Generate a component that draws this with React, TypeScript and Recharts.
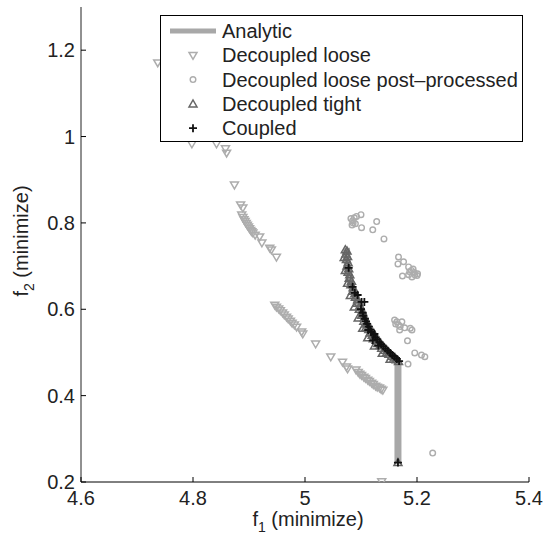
import React from 'react';
import { ScatterChart, Scatter, XAxis, YAxis, Legend } from 'recharts';

// values, [f1, f2]
const analytic: [number, number][] = [
  [5.074, 0.742], [5.076, 0.698], [5.083, 0.652], [5.092, 0.622], [5.101, 0.599],
  [5.110, 0.568], [5.121, 0.545], [5.139, 0.513], [5.157, 0.490], [5.166, 0.478],
  [5.166, 0.244],
];

const decoupledLoose: [number, number][] = [
  [4.737, 1.171],
  [4.798, 0.983], [4.842, 0.983], [4.858, 0.972], [4.860, 0.962],
  [4.874, 0.888],
  [4.885, 0.842], [4.889, 0.835],
  [4.887, 0.819], [4.889, 0.813], [4.891, 0.808], [4.893, 0.804], [4.895, 0.799],
  [4.897, 0.795], [4.899, 0.791], [4.901, 0.787], [4.903, 0.783], [4.905, 0.780],
  [4.907, 0.777], [4.911, 0.772],
  [4.919, 0.768], [4.923, 0.754], [4.937, 0.742], [4.940, 0.738], [4.949, 0.721],
  [4.946, 0.610], [4.949, 0.605], [4.953, 0.601], [4.956, 0.597], [4.960, 0.592],
  [4.963, 0.587], [4.967, 0.582], [4.970, 0.578], [4.974, 0.573], [4.977, 0.568],
  [4.981, 0.564], [4.985, 0.559],
  [4.994, 0.548], [4.996, 0.543], [5.019, 0.520], [5.046, 0.490],
  [5.067, 0.478], [5.074, 0.467], [5.076, 0.462], [5.091, 0.460],
  [5.095, 0.454], [5.098, 0.450], [5.101, 0.447], [5.105, 0.443], [5.108, 0.440],
  [5.112, 0.436], [5.115, 0.433], [5.119, 0.429], [5.122, 0.426], [5.126, 0.422],
  [5.129, 0.420], [5.133, 0.418], [5.136, 0.415], [5.139, 0.413],
  [5.137, 0.201],
];

const looseProcessed: [number, number][] = [
  [5.082, 0.810], [5.085, 0.805], [5.086, 0.800], [5.088, 0.812], [5.090, 0.798],
  [5.092, 0.815], [5.084, 0.795], [5.100, 0.819], [5.101, 0.789], [5.128, 0.803],
  [5.121, 0.784], [5.141, 0.763],
  [5.167, 0.721], [5.166, 0.705], [5.176, 0.710], [5.185, 0.698], [5.187, 0.687],
  [5.196, 0.680], [5.174, 0.677], [5.191, 0.675], [5.201, 0.682], [5.190, 0.690],
  [5.195, 0.685], [5.185, 0.680], [5.200, 0.678], [5.193, 0.693],
  [5.160, 0.575], [5.164, 0.571], [5.167, 0.564], [5.173, 0.571], [5.169, 0.552],
  [5.178, 0.557], [5.191, 0.552], [5.188, 0.556], [5.183, 0.527], [5.196, 0.499],
  [5.208, 0.494], [5.214, 0.490], [5.184, 0.473], [5.162, 0.566], [5.170, 0.560],
  [5.228, 0.267],
];

const decoupledTight: [number, number][] = [
  [5.072, 0.738], [5.075, 0.735], [5.073, 0.728], [5.076, 0.722], [5.074, 0.715],
  [5.077, 0.708], [5.075, 0.700], [5.078, 0.694], [5.077, 0.686], [5.080, 0.680],
  [5.079, 0.672], [5.083, 0.665], [5.082, 0.657], [5.086, 0.650], [5.085, 0.642],
  [5.089, 0.636], [5.090, 0.628], [5.094, 0.622], [5.093, 0.614], [5.098, 0.608],
  [5.097, 0.600], [5.102, 0.595], [5.101, 0.586], [5.106, 0.580], [5.105, 0.572],
  [5.110, 0.566], [5.109, 0.558], [5.114, 0.553], [5.116, 0.545], [5.120, 0.540],
  [5.122, 0.532], [5.127, 0.528], [5.130, 0.521], [5.134, 0.516], [5.137, 0.510],
  [5.142, 0.505], [5.146, 0.500], [5.150, 0.496], [5.155, 0.491], [5.159, 0.487],
  [5.163, 0.483], [5.167, 0.479],
  [5.070, 0.720], [5.072, 0.690], [5.076, 0.660], [5.081, 0.632], [5.088, 0.605],
  [5.095, 0.580], [5.103, 0.556], [5.112, 0.534], [5.124, 0.515], [5.138, 0.498],
  [5.152, 0.484],
  [5.166, 0.245],
];

const coupled: [number, number][] = [
  [5.078, 0.696], [5.085, 0.652], [5.089, 0.638], [5.094, 0.633], [5.101, 0.617],
  [5.106, 0.617],
  [5.100, 0.600], [5.103, 0.592], [5.104, 0.585], [5.107, 0.578], [5.109, 0.572],
  [5.111, 0.566], [5.114, 0.560], [5.117, 0.553], [5.119, 0.547], [5.123, 0.541],
  [5.126, 0.535], [5.129, 0.530], [5.133, 0.524], [5.136, 0.519], [5.140, 0.514],
  [5.144, 0.509], [5.148, 0.504], [5.152, 0.499], [5.156, 0.494], [5.160, 0.490],
  [5.164, 0.485], [5.168, 0.480], [5.113, 0.552], [5.121, 0.528], [5.131, 0.516],
  [5.118, 0.547], [5.124, 0.543],
  [5.166, 0.245],
];

const xTicks = [4.6, 4.8, 5, 5.2, 5.4];
const yTicks = [0.2, 0.4, 0.6, 0.8, 1, 1.2];

const legendLabels = [
  'Analytic',
  'Decoupled loose',
  'Decoupled loose post\u2013processed',
  'Decoupled tight',
  'Coupled',
];

const FONT = '"Liberation Sans", Arial, Helvetica, sans-serif';
const LIGHT = '#adadad';
const DARK = '#666';
const INK = '#111';

const toPts = (arr: [number, number][]) => arr.map(([x, y]) => ({ x, y }));

const TriDown = ({ cx, cy }: any) => (
  <path d={`M${cx - 4},${cy - 2.8}L${cx + 4},${cy - 2.8}L${cx},${cy + 4}Z`} fill="none" stroke={LIGHT} strokeWidth={1.5} />
);
const TriUp = ({ cx, cy }: any) => (
  <path d={`M${cx - 4},${cy + 3}L${cx + 4},${cy + 3}L${cx},${cy - 4}Z`} fill="none" stroke={DARK} strokeWidth={1.5} />
);
const Ring = ({ cx, cy }: any) => (
  <circle cx={cx} cy={cy} r={2.8} fill="none" stroke={LIGHT} strokeWidth={1.4} />
);
const Plus = ({ cx, cy }: any) => (
  <path d={`M${cx - 4},${cy}H${cx + 4}M${cx},${cy - 4}V${cy + 4}`} stroke={INK} strokeWidth={1.8} />
);
const NoDot = () => <g />;

const XTick = ({ x, y, payload }: any) => (
  <g>
    <line x1={x} x2={x} y1={y} y2={y - 5} stroke="#000" />
    <text x={x} y={y + 23} textAnchor="middle" fontSize={20} fontFamily={FONT} fill="#222">
      {payload.value}
    </text>
  </g>
);

const YTick = ({ x, y, payload }: any) => (
  <g>
    <line x1={x} x2={x + 5} y1={y} y2={y} stroke="#000" />
    <text x={x - 6} y={y + 7} textAnchor="end" fontSize={20} fontFamily={FONT} fill="#222">
      {payload.value}
    </text>
  </g>
);

const XTitle = () => (
  <text x={308} y={526} textAnchor="middle" fontSize={20} fontFamily={FONT} fill="#222">
    f<tspan dy={6} fontSize={14}>1</tspan>
    <tspan dy={-6}> (minimize)</tspan>
  </text>
);

const YTitle = () => (
  <text
    x={0}
    y={0}
    transform="translate(28 241) rotate(-90)"
    textAnchor="middle"
    fontSize={20}
    fontFamily={FONT}
    fill="#222"
  >
    f<tspan dy={6} fontSize={14}>2</tspan>
    <tspan dy={-6}> (minimize)</tspan>
  </text>
);

const LegendBox = () => {
  const rowY = (i: number) => 15 + i * 24.3;
  return (
    <div style={{ width: 361, height: 125, border: '1px solid #000', background: '#fff' }}>
      <svg width={361} height={125} style={{ display: 'block' }}>
        <line x1={9} x2={55} y1={rowY(0)} y2={rowY(0)} stroke="#a8a8a8" strokeWidth={5} />
        <TriDown cx={32} cy={rowY(1)} />
        <Ring cx={32} cy={rowY(2)} />
        <TriUp cx={32} cy={rowY(3)} />
        <Plus cx={32} cy={rowY(4)} />
        {legendLabels.map((t, i) => (
          <text key={t} x={61} y={rowY(i) + 7} fontSize={20} fontFamily={FONT} fill="#222">
            {t}
          </text>
        ))}
      </svg>
    </div>
  );
};

export default function App() {
  return (
    <div style={{ position: 'absolute', left: 0, top: 0, background: '#fff' }}>
      <ScatterChart width={547} height={538} margin={{ top: 7, right: 18, bottom: 0, left: 0 }}>
        <XAxis
          type="number"
          dataKey="x"
          domain={[4.6, 5.4]}
          ticks={xTicks}
          allowDataOverflow
          height={56}
          tickSize={0}
          tickMargin={0}
          tick={<XTick />}
          axisLine={{ stroke: '#000' }}
          label={<XTitle />}
        />
        <YAxis
          type="number"
          dataKey="y"
          domain={[0.2, 1.3]}
          ticks={yTicks}
          allowDataOverflow
          width={81}
          tickSize={0}
          tickMargin={0}
          tick={<YTick />}
          axisLine={{ stroke: '#222' }}
          label={<YTitle />}
        />
        <Scatter
          name="Analytic"
          data={toPts(analytic)}
          line={{ stroke: '#a8a8a8', strokeWidth: 7 }}
          shape={<NoDot />}
          isAnimationActive={false}
        />
        <Scatter name="Decoupled loose" data={toPts(decoupledLoose)} shape={<TriDown />} isAnimationActive={false} />
        <Scatter name="Decoupled loose post-processed" data={toPts(looseProcessed)} shape={<Ring />} isAnimationActive={false} />
        <Scatter name="Decoupled tight" data={toPts(decoupledTight)} shape={<TriUp />} isAnimationActive={false} />
        <Scatter name="Coupled" data={toPts(coupled)} shape={<Plus />} isAnimationActive={false} />
        <Legend
          layout="vertical"
          align="center"
          verticalAlign="middle"
          content={<LegendBox />}
          wrapperStyle={{ left: 160, top: 15, width: 363, height: 127 }}
        />
      </ScatterChart>
    </div>
  );
}
